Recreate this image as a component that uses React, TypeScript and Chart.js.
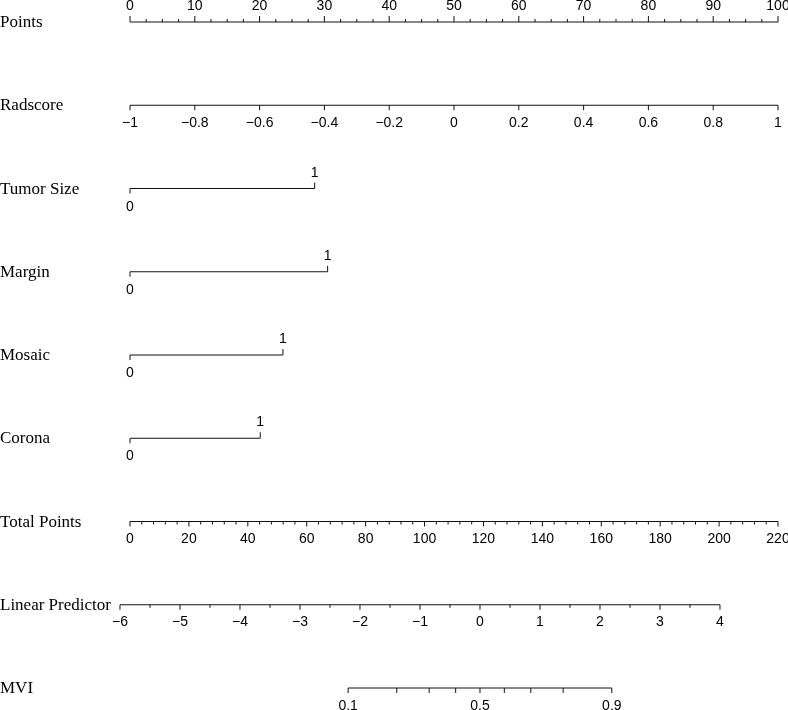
import React, { useEffect, useRef } from "react";
import { Chart, registerables } from "chart.js";

Chart.register(...registerables);

// ---- data ----
const rowLabels = ["Points", "Radscore", "Tumor Size", "Margin", "Mosaic", "Corona", "Total Points", "Linear Predictor", "MVI"];

const pointsMajor = [0, 10, 20, 30, 40, 50, 60, 70, 80, 90, 100];
const pointsMinorStep = 2.5;

const radscoreTicks = [-1, -0.8, -0.6, -0.4, -0.2, 0, 0.2, 0.4, 0.6, 0.8, 1];
const radscoreMin = -1;
const radscoreMax = 1;

const binaryNames = ["Tumor Size", "Margin", "Mosaic", "Corona"];
const binaryPointsFor1 = [28.5, 30.5, 23.6, 20.1];

const totalMajor = [0, 20, 40, 60, 80, 100, 120, 140, 160, 180, 200, 220];
const totalMinorStep = 4;
const totalMax = 220;

const lpMajor = [-6, -5, -4, -3, -2, -1, 0, 1, 2, 3, 4];
const lpMinorStep = 0.5;
const lpAtZeroTotal = -5.833;
const lpPerTotalPoint = 0.04909;

const mviTicks = [0.1, 0.2, 0.3, 0.4, 0.5, 0.6, 0.7, 0.8, 0.9];
const mviLabels = [0.1, 0.5, 0.9];

// ---- mappings to the Points scale ----
const radToPts = (r: number) => ((r - radscoreMin) / (radscoreMax - radscoreMin)) * 100;
const totalToPts = (t: number) => (t * 100) / totalMax;
const lpToPts = (lp: number) => totalToPts((lp - lpAtZeroTotal) / lpPerTotalPoint);
const mviToPts = (p: number) => lpToPts(Math.log(p / (1 - p)));

const fmt = (v: number) => {
  const s = String(Math.round(v * 100) / 100);
  return s.startsWith("-") ? "\u2212" + s.slice(1) : s;
};

const range = (a: number, b: number, step: number) => {
  const out: number[] = [];
  for (let v = a; v <= b + 1e-9; v += step) out.push(Math.round(v * 1000) / 1000);
  return out;
};

export default function App() {
  const ref = useRef<HTMLCanvasElement>(null);

  useEffect(() => {
    if (!ref.current) return;
    const color = "#111";
    const seg = (a: number, b: number, row: number) => ({
      data: [
        { x: a, y: row },
        { x: b, y: row },
      ],
      borderColor: color,
      borderWidth: 1,
      pointRadius: 0,
      clip: false as any,
    });

    const datasets: any[] = [
      seg(0, 100, 0),
      seg(radToPts(radscoreMin), radToPts(radscoreMax), 1),
      ...binaryPointsFor1.map((p, i) => seg(0, p, 2 + i)),
      seg(totalToPts(0), totalToPts(totalMax), 6),
      seg(lpToPts(lpMajor[0]), lpToPts(lpMajor[lpMajor.length - 1]), 7),
      seg(mviToPts(mviTicks[0]), mviToPts(mviTicks[mviTicks.length - 1]), 8),
    ];

    const sans = "14px 'Liberation Sans', Arial, sans-serif";
    const serif = "17px 'Liberation Serif', 'Times New Roman', serif";

    const nomoPlugin = {
      id: "nomo",
      afterDatasetsDraw(chart: any) {
        const ctx = chart.ctx as CanvasRenderingContext2D;
        const xs = chart.scales.x;
        const ys = chart.scales.y;
        const X = (v: number) => xs.getPixelForValue(v);
        const Y = (r: number) => ys.getPixelForValue(r);
        ctx.save();
        ctx.strokeStyle = color;
        ctx.fillStyle = "#000";
        ctx.lineWidth = 1;

        const tick = (px: number, y: number, len: number) => {
          ctx.beginPath();
          ctx.moveTo(px, y);
          ctx.lineTo(px, y + len);
          ctx.stroke();
        };
        const label = (txt: string, px: number, y: number) => {
          ctx.font = sans;
          ctx.textAlign = "center";
          ctx.textBaseline = "alphabetic";
          ctx.fillText(txt, px, y);
        };

        // row labels
        rowLabels.forEach((t, i) => {
          ctx.font = serif;
          ctx.textAlign = "left";
          ctx.textBaseline = "alphabetic";
          ctx.fillText(t, 0, Y(i) + 5);
        });

        // Points (ticks up)
        let L = Y(0);
        range(0, 100, pointsMinorStep).forEach((v) => {
          const major = pointsMajor.includes(v);
          tick(X(v), L, major ? -6 : -3);
        });
        pointsMajor.forEach((v) => label(fmt(v), X(v), L - 12));

        // Radscore
        L = Y(1);
        radscoreTicks.forEach((v) => {
          tick(X(radToPts(v)), L, 5);
          label(fmt(v), X(radToPts(v)), L + 22);
        });

        // Binary rows
        binaryPointsFor1.forEach((p, i) => {
          const l = Y(2 + i);
          tick(X(0), l, 5);
          label("0", X(0), l + 22);
          tick(X(p), l, -6);
          label("1", X(p), l - 12);
        });

        // Total points
        L = Y(6);
        range(0, totalMax, totalMinorStep).forEach((v) => {
          const major = totalMajor.includes(v);
          tick(X(totalToPts(v)), L, major ? 5 : 3);
        });
        totalMajor.forEach((v) => label(fmt(v), X(totalToPts(v)), L + 21));

        // Linear predictor
        L = Y(7);
        range(lpMajor[0], lpMajor[lpMajor.length - 1], lpMinorStep).forEach((v) => {
          const major = lpMajor.includes(v);
          tick(X(lpToPts(v)), L, major ? 5 : 3);
        });
        lpMajor.forEach((v) => label(fmt(v), X(lpToPts(v)), L + 21));

        // MVI
        L = Y(8);
        mviTicks.forEach((v) => tick(X(mviToPts(v)), L, 5));
        mviLabels.forEach((v) => label(fmt(v), X(mviToPts(v)), L + 22));

        ctx.restore();
      },
    };

    const chart = new Chart(ref.current, {
      type: "line",
      data: { datasets },
      options: {
        responsive: false,
        animation: false,
        events: [],
        layout: { padding: { left: 130, right: 10, top: 22, bottom: 22 } },
        plugins: { legend: { display: false }, tooltip: { enabled: false } },
        scales: {
          x: { type: "linear", min: 0, max: 100, display: false },
          y: { type: "linear", min: 0, max: 8, reverse: true, display: false },
        },
      },
      plugins: [nomoPlugin],
    });
    return () => chart.destroy();
  }, []);

  return (
    <div style={{ position: "absolute", left: 0, top: 0, width: 788, height: 710, background: "#fff" }}>
      <canvas ref={ref} width={788} height={710} style={{ display: "block" }} />
    </div>
  );
}
